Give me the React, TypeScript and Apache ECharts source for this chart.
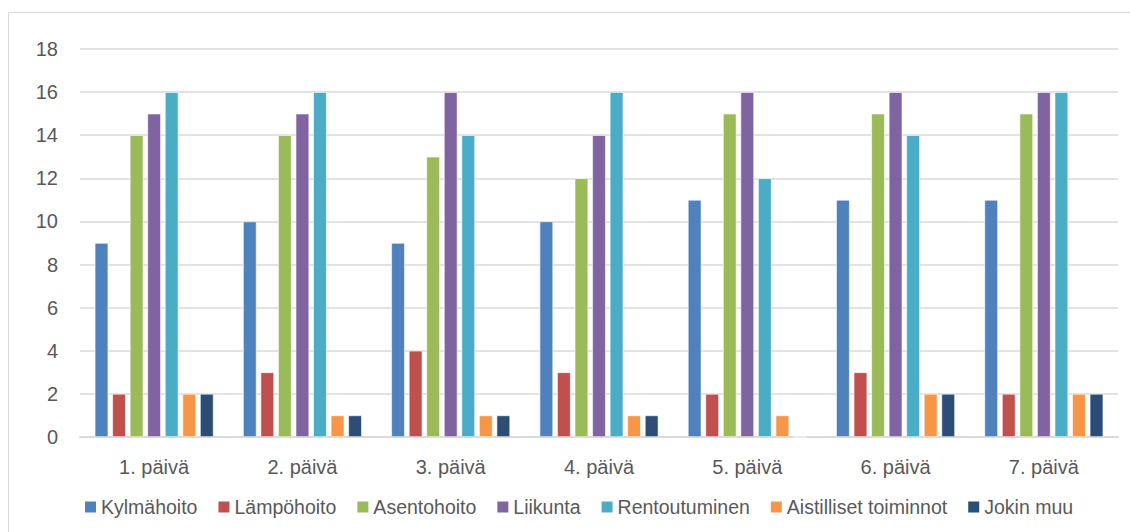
import React, { useEffect, useRef } from "react";
import * as echarts from "echarts";

const days = ["1. päivä", "2. päivä", "3. päivä", "4. päivä", "5. päivä", "6. päivä", "7. päivä"];

const kylmahoito = [9, 10, 9, 10, 11, 11, 11];
const lampohoito = [2, 3, 4, 3, 2, 3, 2];
const asentohoito = [14, 14, 13, 12, 15, 15, 15];
const liikunta = [15, 15, 16, 14, 16, 16, 16];
const rentoutuminen = [16, 16, 14, 16, 12, 14, 16];
const aistilliset = [2, 1, 1, 1, 1, 2, 2];
const jokinMuu = [2, 1, 1, 1, 0, 2, 2];

const seriesDefs = [
  { name: "Kylmähoito", data: kylmahoito, color: "#4F81BD" },
  { name: "Lämpöhoito", data: lampohoito, color: "#C0504D" },
  { name: "Asentohoito", data: asentohoito, color: "#9BBB59" },
  { name: "Liikunta", data: liikunta, color: "#8064A2" },
  { name: "Rentoutuminen", data: rentoutuminen, color: "#4BACC6" },
  { name: "Aistilliset toiminnot", data: aistilliset, color: "#F79646" },
  { name: "Jokin muu", data: jokinMuu, color: "#2C4D75" },
];

const FONT = "'Liberation Sans', Arial, sans-serif";
const TEXT = "#595959";

export default function App() {
  const ref = useRef<HTMLDivElement>(null);

  useEffect(() => {
    document.body.style.margin = "0";
    if (!ref.current) return;
    const chart = echarts.init(ref.current, undefined, { renderer: "svg" });
    chart.setOption({
      animation: false,
      backgroundColor: "#ffffff",
      graphic: [
        {
          type: "rect",
          shape: { x: 8.5, y: 12.5, width: 1130, height: 540 },
          style: { fill: "none", stroke: "#d9d9d9", lineWidth: 1 },
          silent: true,
        },
      ],
      grid: { left: 80, right: 12, top: 49, bottom: 95, containLabel: false },
      legend: {
        left: 78,
        top: 492,
        itemWidth: 13,
        itemHeight: 13,
        itemGap: 19,
        icon: "rect",
        textStyle: { color: TEXT, fontSize: 19.5, fontFamily: FONT, padding: [0, 0, 0, -1] },
        data: seriesDefs.map((s) => s.name),
      },
      xAxis: {
        type: "category",
        data: days,
        axisLine: { lineStyle: { color: "#d9d9d9", width: 2 } },
        axisTick: { show: false },
        axisLabel: { color: TEXT, fontSize: 20, fontFamily: FONT, margin: 20 },
      },
      yAxis: {
        type: "value",
        min: 0,
        max: 18,
        interval: 2,
        axisLine: { show: false },
        axisTick: { show: false },
        splitLine: { lineStyle: { color: "#d9d9d9", width: 1.5 } },
        axisLabel: { color: TEXT, fontSize: 20, fontFamily: FONT, margin: 22 },
      },
      series: seriesDefs.map((s) => ({
        name: s.name,
        type: "bar",
        data: s.data,
        barWidth: 13.5,
        barGap: "30%",
        itemStyle: { color: s.color, borderColor: "#ffffff", borderWidth: 0.6 },
      })),
    });
    return () => chart.dispose();
  }, []);

  return <div ref={ref} style={{ width: 1130, height: 532 }} />;
}
